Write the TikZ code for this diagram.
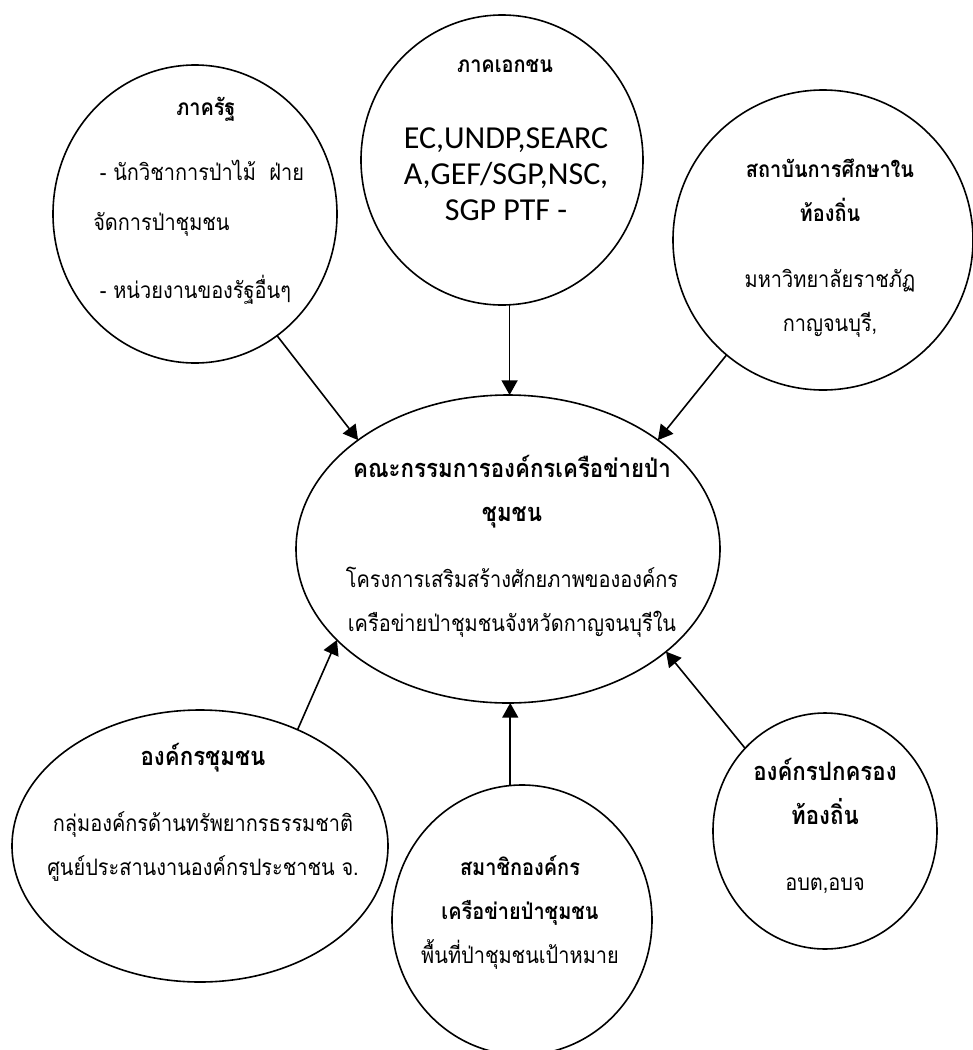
\documentclass[tikz,border=0pt]{standalone}
\usepackage{fontspec}
\usepackage{tikz}
\usetikzlibrary{arrows.meta, shapes.geometric}

\newfontfamily\thai[Script=Thai, FakeStretch=0.88]{Loma}
\newfontfamily\latin{Carlito}
\newcommand\bighead[1]{{\fontsize{19}{33}\selectfont\textbf{#1}}}

\begin{document}
\begin{tikzpicture}[
    x=0.75pt, y=-0.75pt,
    bubble/.style = {draw, ellipse, line width=1.2pt, inner sep=0pt, outer sep=0pt},
    txt/.style = {align=center, inner sep=0pt, anchor=north,
                  font=\thai\fontsize{17}{33}\selectfont},
    arrow/.style = {line width=1.2pt, -{Triangle[length=11pt, width=12pt]}}
  ]

  \useasboundingbox (0,0) rectangle (973,1050);

  % Centre: the committee
  \node[bubble, minimum width=318pt, minimum height=231pt] (cen) at (508,549) {};
  \node[txt] (centxt) at (512,446) {\strut\bighead{คณะกรรมการองค์กรเครือข่ายป่า}\\
    \bighead{ชุมชน}\\[17pt]
    โครงการเสริมสร้างศักยภาพขององค์กร\\
    เครือข่ายป่าชุมชนจังหวัดกาญจนบุรีใน};

  % Top row
  \node[bubble, minimum width=213pt, minimum height=223.5pt] (rat) at (195,214) {};
  \node[txt] (rathead) at (206,84) {\strut\textbf{ภาครัฐ}};
  \node[txt, align=left, anchor=north west] (ratbody) at (93,149) {\strut\ - นักวิชาการป่าไม้~ ฝ่าย\\[4.5pt]
    จัดการป่าชุมชน\\[18pt]
    \ - หน่วยงานของรัฐอื่นๆ};

  \node[bubble, minimum width=211.5pt, minimum height=217.5pt] (ekachon) at (502,160) {};
  \node[txt] (ekahead) at (505,41) {\strut\textbf{ภาคเอกชน}};
  \node[txt, font=\latin\fontsize{24}{27}\selectfont] (ekabody) at (506,123) {\strut EC,UNDP,SEARC\\
    A,GEF/SGP,NSC,\\
    SGP PTF -};

  \node[bubble, minimum width=225pt, minimum height=225pt] (sathaban) at (823,240) {};
  \node[txt] (sathtxt) at (830,146) {\strut\textbf{สถาบันการศึกษาใน}\\
    \textbf{ท้องถิ่น}\\[17pt]
    มหาวิทยาลัยราชภัฏ\\
    กาญจนบุรี,};

  % Bottom row
  \node[bubble, minimum width=282pt, minimum height=204pt] (chumchon) at (200,846) {};
  \node[txt] (chumtxt) at (203,734) {\strut\bighead{องค์กรชุมชน}\\[17pt]
    กลุ่มองค์กรด้านทรัพยากรธรรมชาติ\\
    ศูนย์ประสานงานองค์กรประชาชน จ.};

  \node[bubble, minimum width=195pt, minimum height=202.5pt] (sama) at (522,920) {};
  \node[txt] (samatxt) at (520,844) {\strut\textbf{สมาชิกองค์กร}\\
    \textbf{เครือข่ายป่าชุมชน}\\
    พื้นที่ป่าชุมชนเป้าหมาย};

  \node[bubble, minimum width=168pt, minimum height=177pt] (pokkrong) at (825,831) {};
  \node[txt] (poktxt) at (825,749) {\strut\bighead{องค์กรปกครอง}\\
    \bighead{ท้องถิ่น}\\[17pt]
    อบต,อบจ};

  % Arrows into the centre
  \draw[arrow] (rat.-56) -- (cen.144.7);
  \draw[arrow] (ekachon.-87) -- (ekachon.-87 |- cen.north);
  \draw[arrow] (sathaban.-130) -- (cen.36.3);
  \draw[arrow] (chumchon.50.3) -- (cen.208.7);
  \draw[arrow] (sama.95) -- (sama.95 |- cen.south);
  \draw[arrow] (pokkrong.134) -- (cen.-33.7);

\end{tikzpicture}
\end{document}
